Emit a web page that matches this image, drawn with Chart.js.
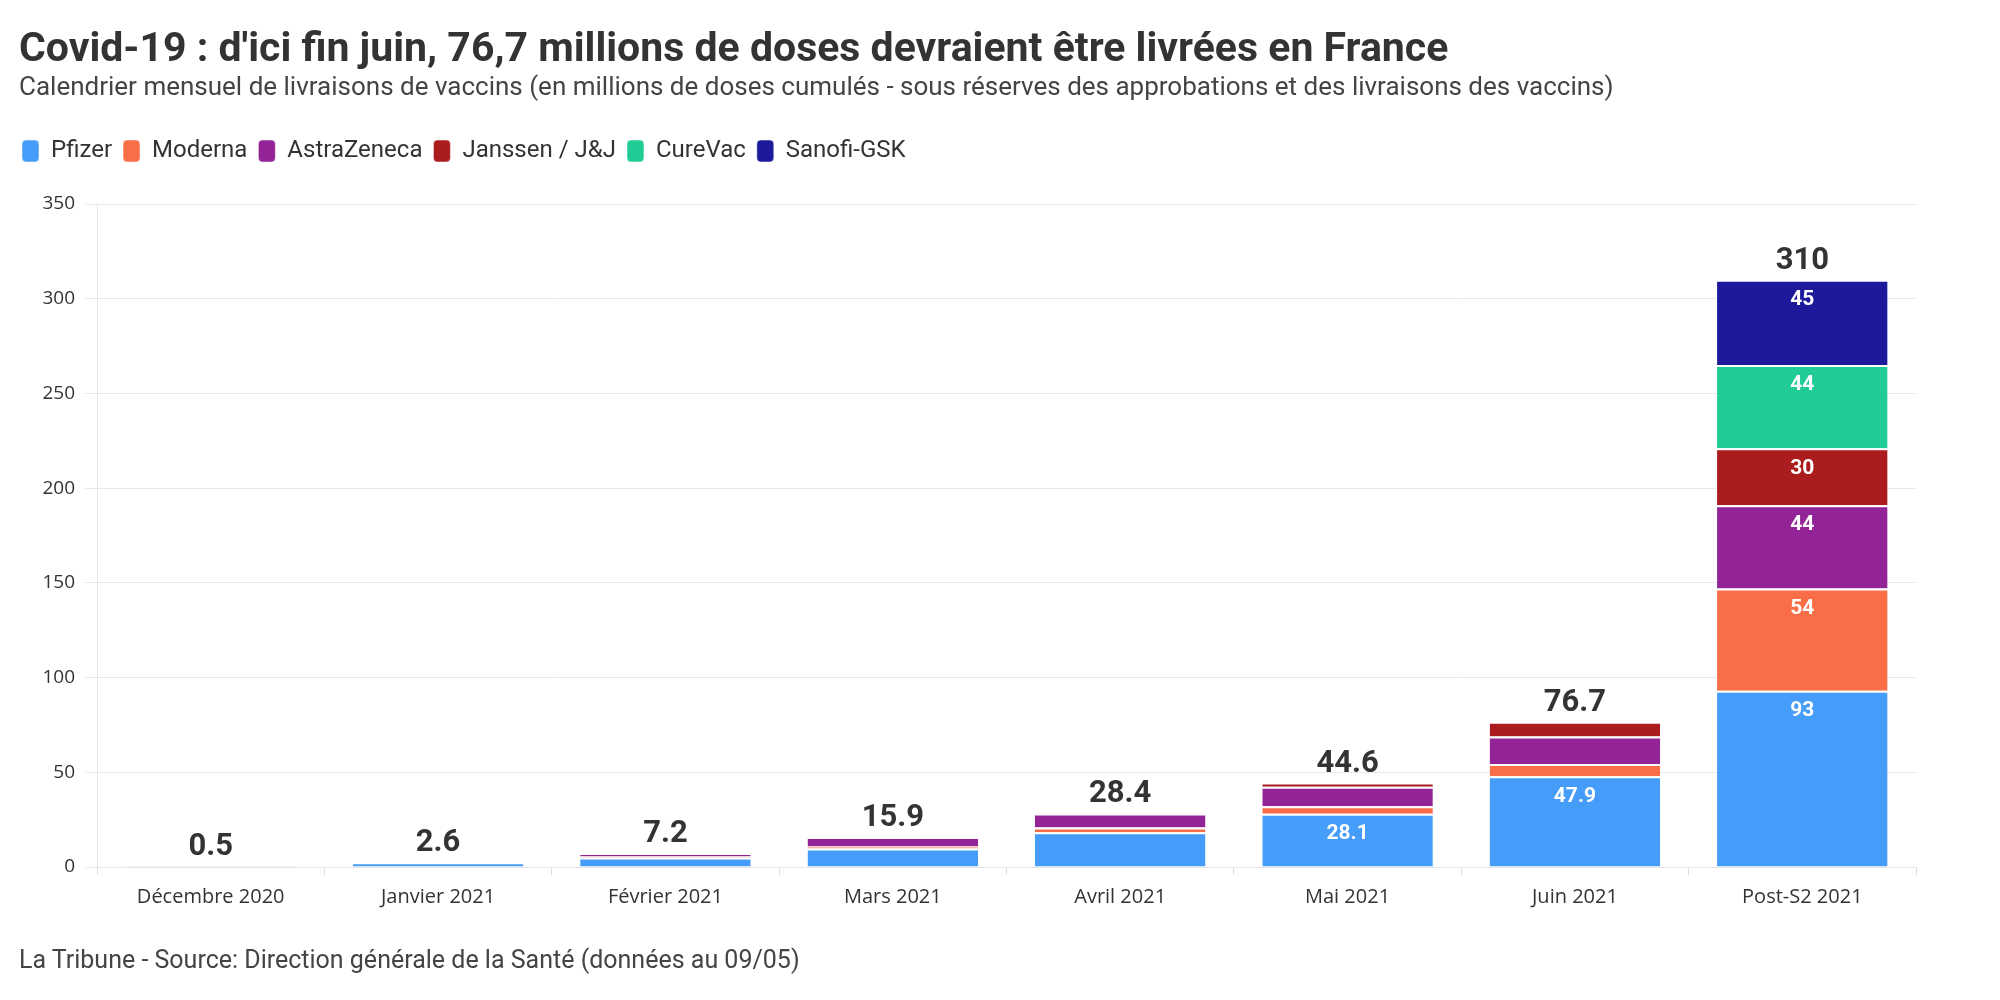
<!DOCTYPE html>
<html>
<head>
<meta charset="utf-8">
<script src="https://cdn.jsdelivr.net/npm/chart.js@4"></script>
<style>
  body { margin: 0; background: #fff; }
  #wrap { position: relative; width: 2000px; height: 1000px; font-family: Roboto, sans-serif; color: #333; }
  #title { position: absolute; left: 19px; top: 25px; font-size: 41px; font-weight: bold; line-height: 44px; white-space: nowrap; }
  #subtitle { position: absolute; left: 19px; top: 71px; font-size: 26px; line-height: 30px; color: #444; white-space: nowrap; }
  #footer { position: absolute; left: 19px; top: 945px; font-size: 25px; line-height: 30px; color: #444; white-space: nowrap; }
  canvas { position: absolute; left: 0; top: 0; }
</style>
</head>
<body>
<div id="wrap">
  <canvas id="chart" width="2000" height="1000"></canvas>
  <div id="title">Covid-19 : d'ici fin juin, 76,7 millions de doses devraient être livrées en France</div>
  <div id="subtitle">Calendrier mensuel de livraisons de vaccins (en millions de doses cumulés - sous réserves des approbations et des livraisons des vaccins)</div>
  <div id="footer">La Tribune - Source: Direction générale de la Santé (données au 09/05)</div>
</div>
<script>
const months = ['Décembre 2020', 'Janvier 2021', 'Février 2021', 'Mars 2021', 'Avril 2021', 'Mai 2021', 'Juin 2021', 'Post-S2 2021'];
const pfizer = [0.5, 2.5, 5.0, 9.8, 18.3, 28.1, 47.9, 93];
const moderna = [0, 0.1, 0.5, 1.0, 2.5, 4.0, 6.5, 54];
const astra = [0, 0, 1.7, 5.1, 7.5, 10.2, 14.5, 44];
const janssen = [0, 0, 0, 0, 0.1, 2.3, 7.8, 30];
const curevac = [0, 0, 0, 0, 0, 0, 0, 44];
const sanofi = [0, 0, 0, 0, 0, 0, 0, 45];
const totals = [0.5, 2.6, 7.2, 15.9, 28.4, 44.6, 76.7, 310];
const yTicks = [0, 50, 100, 150, 200, 250, 300, 350];

function series(label, data, color) {
    return {
        label: label,
        data: data,
        backgroundColor: color,
        borderColor: '#fff',
        borderWidth: { top: 2, right: 0, bottom: 0, left: 0 },
        borderSkipped: false,
        barPercentage: 0.75,
        categoryPercentage: 1
    };
}

// labels inside segments and totals above the bars
const barLabels = {
    id: 'barLabels',
    afterInit(chart) {
        const fit = chart.legend.fit;
        chart.legend.fit = function () {
            fit.call(this);
            this.height = 76;
        };
    },
    afterDatasetsDraw(chart) {
        const ctx = chart.ctx;
        ctx.save();
        ctx.textAlign = 'center';
        ctx.textBaseline = 'middle';
        ctx.font = 'bold 21px Roboto';
        ctx.fillStyle = '#fff';
        chart.data.datasets.forEach((ds, i) => {
            const meta = chart.getDatasetMeta(i);
            meta.data.forEach((bar, j) => {
                const v = ds.data[j];
                if (v < 25) return;
                ctx.fillText(String(v), bar.x, bar.y + 20);
            });
        });
        ctx.textBaseline = 'alphabetic';
        ctx.font = 'bold 31px Roboto';
        ctx.fillStyle = '#333';
        totals.forEach((t, j) => {
            const x = chart.scales.x.getPixelForValue(j);
            const y = chart.scales.y.getPixelForValue(t);
            ctx.fillText(String(t), x, y - 11);
        });
        ctx.restore();
    }
};

const ctx = document.getElementById('chart').getContext('2d');
new Chart(ctx, {
    type: 'bar',
    data: {
        labels: months,
        datasets: [
            series('Pfizer', pfizer, '#469cf9'),
            series('Moderna', moderna, '#f96d47'),
            series('AstraZeneca', astra, '#922498'),
            series('Janssen / J&J', janssen, '#ab1c1f'),
            series('CureVac', curevac, '#20cb95'),
            series('Sanofi-GSK', sanofi, '#1c1a9b')
        ]
    },
    plugins: [barLabels],
    options: {
        responsive: false,
        animation: false,
        layout: { padding: { left: 11, right: 84, top: 128, bottom: 73 } },
        plugins: {
            legend: {
                position: 'top',
                align: 'start',
                labels: {
                    boxWidth: 17,
                    boxHeight: 22,
                    useBorderRadius: true,
                    borderRadius: 4,
                    padding: 11,
                    color: '#333',
                    font: { family: 'Roboto', size: 24 }
                }
            },
            tooltip: { enabled: false }
        },
        scales: {
            x: {
                stacked: true,
                afterFit(scale) { scale.height = 60; },
                grid: { drawOnChartArea: false, tickLength: 8, color: '#dddddd' },
                border: { color: '#e6e6e6' },
                ticks: { color: '#333', padding: 10, font: { family: 'Open Sans', size: 20 } }
            },
            y: {
                stacked: true,
                min: 0,
                max: 350,
                afterFit(scale) { scale.width = 86; },
                afterBuildTicks(scale) { scale.ticks = yTicks.map(v => ({ value: v })); },
                grid: { color: '#e8e8e8', tickLength: 12 },
                border: { color: '#e6e6e6' },
                ticks: { color: '#333', padding: 10, font: { family: 'Open Sans', size: 19 } }
            }
        }
    }
});
</script>
</body>
</html>
